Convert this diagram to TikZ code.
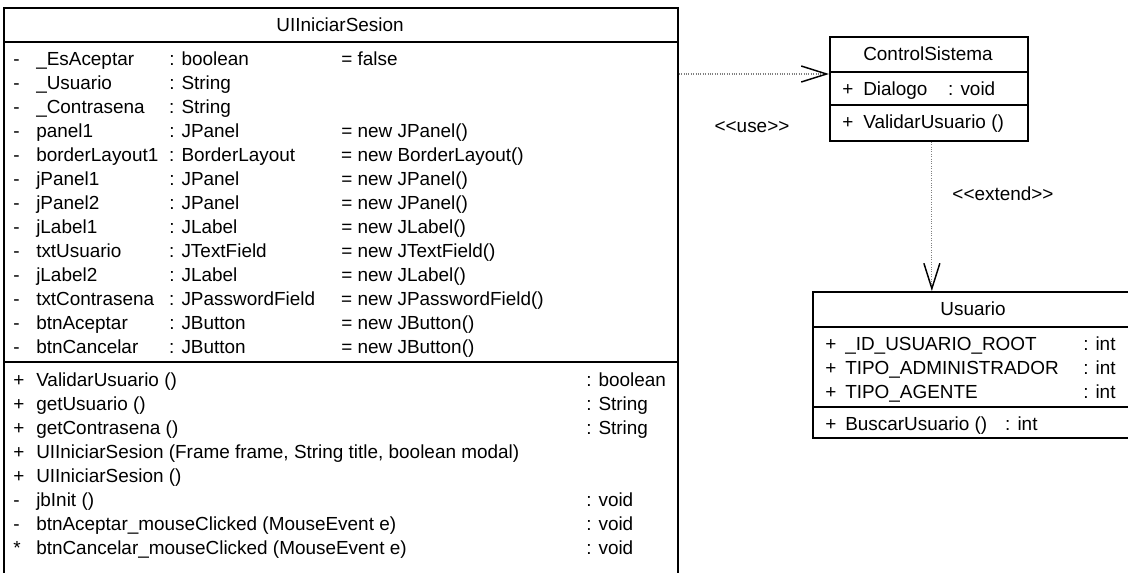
\documentclass[tikz,border=0pt]{standalone}
\usepackage{fontspec}
\setmainfont{Liberation Sans}
\usetikzlibrary{arrows.meta}
\newcommand{\attrrow}[4]{\makebox[17.25pt][l]{#1}\makebox[99.75pt][l]{#2}\makebox[129pt][l]{#3}#4}
\newcommand{\methrow}[3]{\makebox[17.25pt][l]{#1}\makebox[412.5pt][l]{#2}#3}
\newcommand{\stereo}[1]{<\kern0pt<#1>\kern0pt>}
\tikzset{
  classbox/.style={draw, line width=1.3pt, inner sep=0pt, anchor=north west},
  sepline/.style={line width=1.3pt},
  rowtext/.style={inner sep=0pt, anchor=base west, font=\fontsize{14.2pt}{17pt}\selectfont},
  titletext/.style={inner sep=0pt, font=\fontsize{14.2pt}{17pt}\selectfont},
  dep/.style={gray, densely dotted, line width=0.8pt,
    -{Straight Barb[length=19pt, width=12pt, line width=1.1pt, color=black]}}
}

\begin{document}
\begin{tikzpicture}[x=0.75pt, y=-0.75pt]
			%%%%% START %%%%%
			\useasboundingbox (0,0) rectangle (1128,572);
			\clip (0,0) rectangle (1128,572);
			
			% UIIniciarSesion
			\node[classbox, minimum width=505.5pt, minimum height=450pt] (ui) at (3,7) {};
			\draw[sepline] (3,42) -- (677,42);
			\draw[sepline] (3,362) -- (677,362);
			\node[titletext] (uiTitle) at (340,25) {UIIniciarSesion};
			
			\node[rowtext] (uiA1) at (13,65) {\attrrow{-}{\_EsAceptar}{: boolean}{= false}};
			\node[rowtext] (uiA2) at (13,89) {\attrrow{-}{\_Usuario}{: String}{}};
			\node[rowtext] (uiA3) at (13,113) {\attrrow{-}{\_Contrasena}{: String}{}};
			\node[rowtext] (uiA4) at (13,137) {\attrrow{-}{panel1}{: JPanel}{= new JPanel()}};
			\node[rowtext] (uiA5) at (13,161) {\attrrow{-}{borderLayout1}{: BorderLayout}{= new BorderLayout()}};
			\node[rowtext] (uiA6) at (13,185) {\attrrow{-}{jPanel1}{: JPanel}{= new JPanel()}};
			\node[rowtext] (uiA7) at (13,209) {\attrrow{-}{jPanel2}{: JPanel}{= new JPanel()}};
			\node[rowtext] (uiA8) at (13,233) {\attrrow{-}{jLabel1}{: JLabel}{= new JLabel()}};
			\node[rowtext] (uiA9) at (13,257) {\attrrow{-}{txtUsuario}{: JTextField}{= new JTextField()}};
			\node[rowtext] (uiA10) at (13,281) {\attrrow{-}{jLabel2}{: JLabel}{= new JLabel()}};
			\node[rowtext] (uiA11) at (13,305) {\attrrow{-}{txtContrasena}{: JPasswordField}{= new JPasswordField()}};
			\node[rowtext] (uiA12) at (13,329) {\attrrow{-}{btnAceptar}{: JButton}{= new JButton()}};
			\node[rowtext] (uiA13) at (13,353) {\attrrow{-}{btnCancelar}{: JButton}{= new JButton()}};
			
			\node[rowtext] (uiM1) at (13,386) {\methrow{+}{ValidarUsuario ()}{: boolean}};
			\node[rowtext] (uiM2) at (13,410) {\methrow{+}{getUsuario ()}{: String}};
			\node[rowtext] (uiM3) at (13,434) {\methrow{+}{getContrasena ()}{: String}};
			\node[rowtext] (uiM4) at (13,458) {\methrow{+}{UIIniciarSesion (Frame frame, String title, boolean modal)}{}};
			\node[rowtext] (uiM5) at (13,482) {\methrow{+}{UIIniciarSesion ()}{}};
			\node[rowtext] (uiM6) at (13,506) {\methrow{-}{jbInit ()}{: void}};
			\node[rowtext] (uiM7) at (13,530) {\methrow{-}{btnAceptar\_mouseClicked (MouseEvent e)}{: void}};
			\node[rowtext] (uiM8) at (13,554) {\methrow{*}{btnCancelar\_mouseClicked (MouseEvent e)}{: void}};
			
			% ControlSistema
			\node[classbox, minimum width=148.5pt, minimum height=78pt] (ctrl) at (829,36) {};
			\draw[sepline] (829,72) -- (1027,72);
			\draw[sepline] (829,105) -- (1027,105);
			\node[titletext] (ctrlTitle) at (928,54) {ControlSistema};
			\node[rowtext] (ctrlA1) at (842,95) {\makebox[15.75pt][l]{+}\makebox[63.75pt][l]{Dialogo}: void};
			\node[rowtext] (ctrlM1) at (842,128) {\makebox[15.75pt][l]{+}ValidarUsuario ()};
			
			% Usuario
			\node[classbox, minimum width=241.5pt, minimum height=109.5pt] (usu) at (812,291) {};
			\draw[sepline] (812,327) -- (1134,327);
			\draw[sepline] (812,407) -- (1134,407);
			\node[titletext] (usuTitle) at (973,309) {Usuario};
			\node[rowtext] (usuA1) at (825,350) {\makebox[15pt][l]{+}\makebox[178.5pt][l]{\_ID\_USUARIO\_ROOT}: int};
			\node[rowtext] (usuA2) at (825,374) {\makebox[15pt][l]{+}\makebox[178.5pt][l]{TIPO\_ADMINISTRADOR}: int};
			\node[rowtext] (usuA3) at (825,398) {\makebox[15pt][l]{+}\makebox[178.5pt][l]{TIPO\_AGENTE}: int};
			\node[rowtext] (usuM1) at (825,430) {\makebox[15pt][l]{+}\makebox[120pt][l]{BuscarUsuario ()}: int};
			
			% dependencias
			\coordinate (usey) at (0,74);
			\draw[dep] (ui.east |- usey) -- (ctrl.west |- usey);
			\node[titletext] (useLabel) at (752,127) {\stereo{use}};
			\draw[dep] ([xshift=2.25pt]ctrl.south) -- ([xshift=2.25pt]ctrl.south |- usu.north);
			\node[titletext] (extLabel) at (1003,194) {\stereo{extend}};
			
			%%%%% END %%%%%
\end{tikzpicture}
\end{document}
